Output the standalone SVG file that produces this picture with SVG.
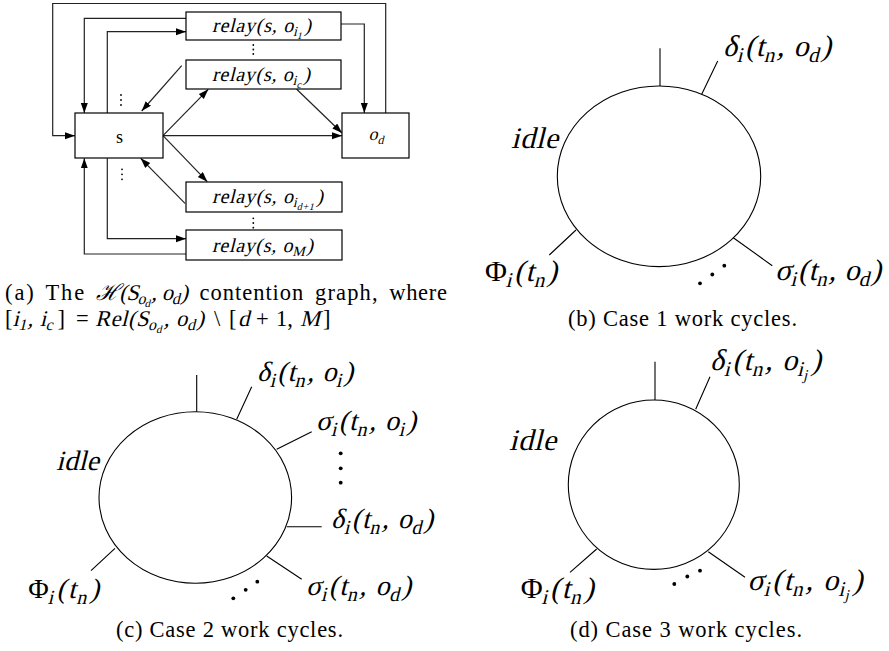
<svg xmlns="http://www.w3.org/2000/svg" width="889" height="651" viewBox="0 0 889 651">
<style>
.box{fill:#fff;stroke:#000;stroke-width:1.2}
.cn{fill:none;stroke:#222;stroke-width:1.2}
.ln{fill:none;stroke:#000;stroke-width:1.1}
.m{font-family:"Liberation Serif",serif;fill:#000}
.rm{font-family:"Liberation Serif",serif;fill:#000}
.cap{font-family:"Liberation Serif",serif;fill:#000;font-size:22.5px}
.d{fill:#000}
</style>
<defs>
<marker id="ah" markerUnits="userSpaceOnUse" markerWidth="11" markerHeight="8" refX="10" refY="3.5" orient="auto">
<path d="M0,0 L10,3.5 L0,7 z" fill="#000"/>
</marker>
</defs>
<rect width="889" height="651" fill="#fff"/>

<!-- Panel (a) -->
<g id="connectors">
<path class="cn" d="M385.7,113 V3.5 H52.7 V135.7 H75" marker-end="url(#ah)"/>
<path class="cn" d="M186,18.3 H84.3 V113" marker-end="url(#ah)"/>
<path class="cn" d="M107.3,113 V31.7 H186" marker-end="url(#ah)"/>
<path class="cn" d="M341,24 H364.3 V113" marker-end="url(#ah)"/>
<path class="cn" d="M181.7,65.7 L141.7,111" marker-end="url(#ah)"/>
<path class="cn" d="M163,135.7 L208.3,89.3" marker-end="url(#ah)"/>
<path class="cn" d="M296.7,89.3 L342,133" marker-end="url(#ah)"/>
<path class="cn" d="M163,135.7 H342" marker-end="url(#ah)"/>
<path class="cn" d="M163,135.7 L207.3,181.7" marker-end="url(#ah)"/>
<path class="cn" d="M185,203.3 L140.7,158.3" marker-end="url(#ah)"/>
<path class="cn" d="M107.3,158.3 V238.7 H186" marker-end="url(#ah)"/>
<path class="cn" d="M186,254 H84.3 V158.3" marker-end="url(#ah)"/>
<g class="d">
<circle cx="253.3" cy="45" r="0.9"/><circle cx="253.3" cy="49.5" r="0.9"/><circle cx="253.3" cy="54" r="0.9"/>
<circle cx="121" cy="95" r="0.9"/><circle cx="121" cy="100" r="0.9"/><circle cx="121" cy="105" r="0.9"/>
<circle cx="122" cy="169.3" r="0.9"/><circle cx="122" cy="174.3" r="0.9"/><circle cx="122" cy="179.3" r="0.9"/>
<circle cx="253.3" cy="218.3" r="0.9"/><circle cx="253.3" cy="223" r="0.9"/><circle cx="253.3" cy="227.7" r="0.9"/>
</g>
</g>

<g id="node-s">
<rect class="box" x="75" y="113" width="88" height="45"/>
<text class="rm" x="119.5" y="142.5" font-size="18" text-anchor="middle">s</text>
</g>
<g id="node-od">
<rect class="box" x="342" y="113" width="67" height="45"/>
<text class="m" transform="translate(368.5,140) skewX(-14)" font-size="18" textLength="16">o<tspan font-size="12" dy="4">d</tspan></text>
</g>
<g id="node-relay-i1">
<rect class="box" x="186" y="12" width="155" height="28"/>
<text class="m" transform="translate(212,32) skewX(-14)" font-size="20" textLength="99">relay(s, o<tspan font-size="14" dy="4">i</tspan><tspan font-size="10" dy="3">1</tspan><tspan dy="-7">)</tspan></text>
</g>
<g id="node-relay-ic">
<rect class="box" x="186" y="60" width="155" height="29"/>
<text class="m" transform="translate(212,80.5) skewX(-14)" font-size="20" textLength="98">relay(s, o<tspan font-size="14" dy="4">i</tspan><tspan font-size="10" dy="3">c</tspan><tspan dy="-7">)</tspan></text>
</g>
<g id="node-relay-id1">
<rect class="box" x="186" y="182" width="156" height="30"/>
<text class="m" transform="translate(212,203) skewX(-14)" font-size="20" textLength="111">relay(s, o<tspan font-size="14" dy="4">i</tspan><tspan font-size="10" dy="3">d+1</tspan><tspan dy="-7">)</tspan></text>
</g>
<g id="node-relay-M">
<rect class="box" x="186" y="230" width="156" height="30"/>
<text class="m" transform="translate(212,251.5) skewX(-14)" font-size="20" textLength="101">relay(s, o<tspan font-size="14" dy="4">M</tspan><tspan dy="-4">)</tspan></text>
</g>

<g id="caption-a">
<text class="cap" x="5" y="300" textLength="28.8">(a)</text>
<text class="cap" x="45.5" y="300" textLength="38.7">The</text>
<text class="cap" transform="translate(95.9,300) skewX(-14)" textLength="92">ℋ(S<tspan font-size="16" dy="4">o</tspan><tspan font-size="11" dy="3">d</tspan><tspan dy="-7">, o</tspan><tspan font-size="16" dy="4">d</tspan><tspan dy="-4">)</tspan></text>
<text class="cap" x="199.6" y="300" textLength="103.7">contention</text>
<text class="cap" x="315" y="300" textLength="62.6">graph,</text>
<text class="cap" x="389.3" y="300" textLength="57.6">where</text>

<text class="cap" x="5" y="326">[</text>
<text class="cap" transform="translate(12.5,326) skewX(-14)" textLength="41">i<tspan font-size="16" dy="4">1</tspan><tspan dy="-4">, i</tspan><tspan font-size="16" dy="4">c</tspan></text>
<text class="cap" x="57.5" y="326">]</text>
<text class="cap" x="76" y="326">=</text>
<text class="cap" transform="translate(95,326) skewX(-14)" textLength="109">Rel(S<tspan font-size="16" dy="4">o</tspan><tspan font-size="11" dy="3">d</tspan><tspan dy="-7">, o</tspan><tspan font-size="16" dy="4">d</tspan><tspan dy="-4">)</tspan></text>
<text class="cap" x="214" y="326">\</text>
<text class="cap" x="229" y="326">[</text>
<text class="cap" transform="translate(238,326) skewX(-14)">d</text>
<text class="cap" x="256" y="326">+</text>
<text class="cap" x="276" y="326">1,</text>
<text class="cap" transform="translate(300,326) skewX(-14)">M</text>
<text class="cap" x="323" y="326">]</text>
</g>

<!-- Panel (b) -->
<g id="cycle-b">
<ellipse class="ln" cx="659" cy="176.3" rx="101.7" ry="90.3"/>
<path class="ln" d="M660,48.3 V86 M701.7,94.3 L717.7,61 M576,230 L549.3,255 M733.3,237.7 L772.3,265.7"/>
<g class="d"><circle cx="700" cy="283.3" r="1.9"/><circle cx="712.3" cy="274.5" r="1.9"/><circle cx="724.3" cy="265.7" r="1.9"/></g>
<text class="m" transform="translate(723,56) skewX(-14)" font-size="30" textLength="108">δ<tspan font-size="21" dy="6">i</tspan><tspan dy="-6">(t</tspan><tspan font-size="21" dy="6">n</tspan><tspan dy="-6">, o</tspan><tspan font-size="21" dy="6">d</tspan><tspan dy="-6">)</tspan></text>
<text class="m" transform="translate(511,148) skewX(-14)" font-size="30" textLength="47">idle</text>
<text class="rm" x="485" y="281" font-size="30" textLength="21">Φ</text>
<text class="m" transform="translate(507,281) skewX(-14)" font-size="30" textLength="50"><tspan font-size="21" dy="6">i</tspan><tspan dy="-6">(t</tspan><tspan font-size="21" dy="6">n</tspan><tspan dy="-6">)</tspan></text>
<text class="m" transform="translate(775,280) skewX(-14)" font-size="30" textLength="106">σ<tspan font-size="21" dy="6">i</tspan><tspan dy="-6">(t</tspan><tspan font-size="21" dy="6">n</tspan><tspan dy="-6">, o</tspan><tspan font-size="21" dy="6">d</tspan><tspan dy="-6">)</tspan></text>
<text class="cap" x="568" y="326" textLength="229">(b) Case 1 work cycles.</text>
</g>

<!-- Panel (c) -->
<g id="cycle-c">
<ellipse class="ln" cx="195.3" cy="497.5" rx="96.3" ry="85.8"/>
<path class="ln" d="M196.7,375 V411.7 M236.7,419.3 L251.7,386.7 M276.7,449.3 L311.7,431.7 M286.7,526.7 H321.7 M266.7,556 L301.7,579.3 M115,548.3 L91,570.7"/>
<g class="d"><circle cx="340.7" cy="453.3" r="1.9"/><circle cx="340.7" cy="468.3" r="1.9"/><circle cx="340.7" cy="482.7" r="1.9"/>
<circle cx="233.3" cy="598.3" r="1.9"/><circle cx="245.7" cy="589.8" r="1.9"/><circle cx="257.3" cy="581.7" r="1.9"/></g>
<text class="m" transform="translate(257,381) skewX(-14)" font-size="28" textLength="96">δ<tspan font-size="20" dy="6">i</tspan><tspan dy="-6">(t</tspan><tspan font-size="20" dy="6">n</tspan><tspan dy="-6">, o</tspan><tspan font-size="20" dy="6">i</tspan><tspan dy="-6">)</tspan></text>
<text class="m" transform="translate(316,430) skewX(-14)" font-size="28" textLength="100">σ<tspan font-size="20" dy="6">i</tspan><tspan dy="-6">(t</tspan><tspan font-size="20" dy="6">n</tspan><tspan dy="-6">, o</tspan><tspan font-size="20" dy="6">i</tspan><tspan dy="-6">)</tspan></text>
<text class="m" transform="translate(331,528) skewX(-14)" font-size="28" textLength="102">δ<tspan font-size="20" dy="6">i</tspan><tspan dy="-6">(t</tspan><tspan font-size="20" dy="6">n</tspan><tspan dy="-6">, o</tspan><tspan font-size="20" dy="6">d</tspan><tspan dy="-6">)</tspan></text>
<text class="m" transform="translate(306,595) skewX(-14)" font-size="28" textLength="105">σ<tspan font-size="20" dy="6">i</tspan><tspan dy="-6">(t</tspan><tspan font-size="20" dy="6">n</tspan><tspan dy="-6">, o</tspan><tspan font-size="20" dy="6">d</tspan><tspan dy="-6">)</tspan></text>
<text class="rm" x="28.3" y="598" font-size="28" textLength="20">Φ</text>
<text class="m" transform="translate(49,598) skewX(-14)" font-size="28" textLength="50"><tspan font-size="20" dy="6">i</tspan><tspan dy="-6">(t</tspan><tspan font-size="20" dy="6">n</tspan><tspan dy="-6">)</tspan></text>
<text class="m" transform="translate(56,470) skewX(-14)" font-size="28" textLength="43">idle</text>
<text class="cap" x="116" y="637" textLength="227">(c) Case 2 work cycles.</text>
</g>

<!-- Panel (d) -->
<g id="cycle-d">
<ellipse class="ln" cx="653.8" cy="484.7" rx="85.5" ry="84.7"/>
<path class="ln" d="M655,361.7 V400 M695.7,409.3 L710,376.7 M596.7,549 L570,572.3 M708.3,551.7 L745,577.3"/>
<g class="d"><circle cx="674.3" cy="584" r="1.9"/><circle cx="687.3" cy="576.5" r="1.9"/><circle cx="700" cy="570.7" r="1.9"/></g>
<text class="m" transform="translate(710,370) skewX(-14)" font-size="30" textLength="111">δ<tspan font-size="21" dy="6">i</tspan><tspan dy="-6">(t</tspan><tspan font-size="21" dy="6">n</tspan><tspan dy="-6">, o</tspan><tspan font-size="21" dy="6">i</tspan><tspan font-size="15" dy="4">j</tspan><tspan dy="-10">)</tspan></text>
<text class="m" transform="translate(509,450) skewX(-14)" font-size="30" textLength="47">idle</text>
<text class="rm" x="520.7" y="598" font-size="30" textLength="21">Φ</text>
<text class="m" transform="translate(542.7,598) skewX(-14)" font-size="30" textLength="51"><tspan font-size="21" dy="6">i</tspan><tspan dy="-6">(t</tspan><tspan font-size="21" dy="6">n</tspan><tspan dy="-6">)</tspan></text>
<text class="m" transform="translate(747.5,590) skewX(-14)" font-size="30" textLength="115">σ<tspan font-size="21" dy="6">i</tspan><tspan dy="-6">(t</tspan><tspan font-size="21" dy="6">n</tspan><tspan dy="-6">, o</tspan><tspan font-size="21" dy="6">i</tspan><tspan font-size="15" dy="4">j</tspan><tspan dy="-10">)</tspan></text>
<text class="cap" x="570" y="637" textLength="232">(d) Case 3 work cycles.</text>
</g>
</svg>
